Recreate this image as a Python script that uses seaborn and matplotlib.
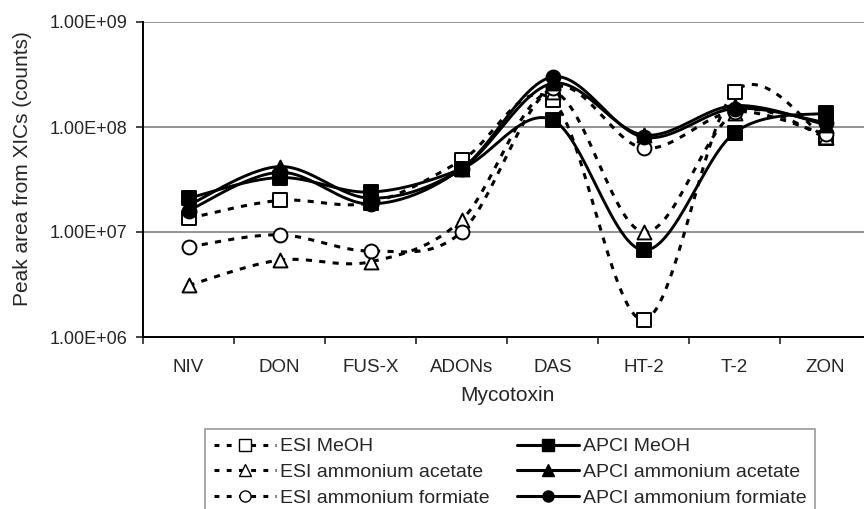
import numpy as np
import pandas as pd
import seaborn as sns
import matplotlib.pyplot as plt
from matplotlib.lines import Line2D

# Values
toxins = ["NIV", "DON", "FUS-X", "ADONs", "DAS", "HT-2", "T-2", "ZON"]
esi_meoh = [1.35e7, 2.0e7, 1.9e7, 4.8e7, 1.8e8, 1.45e6, 2.15e8, 7.8e7]
esi_acetate = [3.1e6, 5.4e6, 5.2e6, 1.3e7, 2.15e8, 1.0e7, 1.35e8, 8.0e7]
esi_formiate = [7.2e6, 9.4e6, 6.6e6, 1.0e7, 2.35e8, 6.3e7, 1.4e8, 8.5e7]
apci_meoh = [2.1e7, 3.3e7, 2.4e7, 4.0e7, 1.17e8, 6.7e6, 8.8e7, 1.36e8]
apci_acetate = [1.8e7, 4.2e7, 2.1e7, 4.0e7, 2.6e8, 8.4e7, 1.6e8, 1.05e8]
apci_formiate = [1.6e7, 3.7e7, 1.85e7, 4.0e7, 3.0e8, 8.0e7, 1.5e8, 1.1e8]

series = [
    ("ESI MeOH", esi_meoh, "s", False),
    ("ESI ammonium acetate", esi_acetate, "^", False),
    ("ESI ammonium formiate", esi_formiate, "o", False),
    ("APCI MeOH", apci_meoh, "s", True),
    ("APCI ammonium acetate", apci_acetate, "^", True),
    ("APCI ammonium formiate", apci_formiate, "o", True),
]


def smooth(y, n=30):
    # Excel-style smoothed line: Catmull-Rom segments in log space
    x = np.arange(len(y), dtype=float)
    ly = np.log10(y)
    px = np.concatenate([[x[0]], x, [x[-1]]])
    py = np.concatenate([[ly[0]], ly, [ly[-1]]])
    xs, ys = [], []
    t = np.linspace(0, 1, n)
    for i in range(1, len(px) - 2):
        p0x, p1x, p2x, p3x = px[i - 1:i + 3]
        p0y, p1y, p2y, p3y = py[i - 1:i + 3]
        c1x, c1y = p1x + (p2x - p0x) / 6, p1y + (p2y - p0y) / 6
        c2x, c2y = p2x - (p3x - p1x) / 6, p2y - (p3y - p1y) / 6
        b = [(1 - t) ** 3, 3 * (1 - t) ** 2 * t, 3 * (1 - t) * t ** 2, t ** 3]
        xs.append(b[0] * p1x + b[1] * c1x + b[2] * c2x + b[3] * p2x)
        ys.append(b[0] * p1y + b[1] * c1y + b[2] * c2y + b[3] * p2y)
    return np.concatenate(xs), 10 ** np.concatenate(ys)


sns.set_style("white")
plt.rcParams["font.family"] = ["Liberation Sans", "DejaVu Sans"]

fig = plt.figure(figsize=(8.64, 5.09), dpi=100)
ax = fig.add_axes([143 / 864, 1 - 337 / 509, 728 / 864, 315 / 509])

pos = np.arange(len(toxins))
for name, vals, mk, apci in series:
    cx, cy = smooth(vals)
    sns.lineplot(x=cx, y=cy, ax=ax, color="black", sort=False, estimator=None,
                 linewidth=2.1 if apci else 2.2, zorder=3)
    if not apci:
        ax.lines[-1].set_dashes((2.0, 2.4))
    df = pd.DataFrame({"x": pos, "y": vals})
    sns.scatterplot(data=df, x="x", y="y", ax=ax, marker=mk, s=100,
                    facecolor="black" if apci else "white",
                    edgecolor="black", linewidth=1.4, zorder=4)

ax.set_yscale("log")
ax.set_ylim(1e6, 1e9)
ax.set_xlim(-0.5, len(toxins) - 0.5)
ax.set_yticks([1e6, 1e7, 1e8, 1e9])
ax.set_yticklabels(["1.00E+06", "1.00E+07", "1.00E+08", "1.00E+09"])
ax.minorticks_off()
ax.set_xticks(pos)
ax.set_xticklabels(toxins)
ax.set_xticks(np.arange(-0.5, len(toxins)), minor=True)
ax.tick_params(axis="x", which="major", length=0, pad=16, labelsize=13.5)
ax.tick_params(axis="x", which="minor", length=5, width=1.2, direction="out", bottom=True)
ax.tick_params(axis="y", length=5, width=1.2, direction="out", left=True, labelsize=13, pad=6)
ax.yaxis.grid(True, color="#8a8a8a", linewidth=1.3)
ax.set_axisbelow(True)
for side in ["top", "right"]:
    ax.spines[side].set_visible(False)
for side in ["left", "bottom"]:
    ax.spines[side].set_color("black")
    ax.spines[side].set_linewidth(1.4)

ax.set_xlabel("Mycotoxin", fontsize=15, labelpad=7)
ax.set_ylabel("Peak area from XICs (counts)", fontsize=15)
ax.yaxis.set_label_coords(-0.153, 0.535)

handles = []
for name, vals, mk, apci in series:
    handles.append(Line2D([], [], color="black", marker=mk, markersize=8,
                          markerfacecolor="black" if apci else "white",
                          markeredgecolor="black", linewidth=2.2,
                          linestyle="-" if apci else (0, (1.6, 2.4))))
leg = fig.legend(handles, [s[0] for s in series],
                 loc="upper left", bbox_to_anchor=(205 / 864, 1 - 429 / 509),
                 ncol=2, frameon=True, fancybox=False, fontsize=14,
                 handlelength=3.2, labelspacing=0.42, columnspacing=1.4,
                 borderpad=0.45, handletextpad=0.2, borderaxespad=0)
leg.get_frame().set_edgecolor("#8a8a8a")
leg.get_frame().set_linewidth(1.3)

fig.savefig("out.png", dpi=100)
